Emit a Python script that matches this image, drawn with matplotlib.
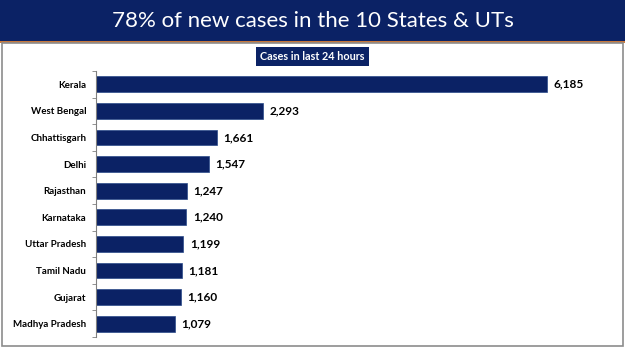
import numpy as np
import matplotlib.pyplot as plt
from matplotlib.patches import Rectangle

states = ["Kerala", "West Bengal", "Chhattisgarh", "Delhi", "Rajasthan",
          "Karnataka", "Uttar Pradesh", "Tamil Nadu", "Gujarat", "Madhya Pradesh"]
cases = [6185, 2293, 1661, 1547, 1247, 1240, 1199, 1181, 1160, 1079]

title = "78% of new cases in the 10 States & UTs"
subtitle = "Cases in last 24 hours"

navy = "#0b2265"
W, H = 625, 351

fig = plt.figure(figsize=(W / 100, H / 100), dpi=100)
fig.patch.set_facecolor("white")

# title band + orange underline
fig.patches.append(Rectangle((0, 1 - 41 / H), 1, 41 / H, transform=fig.transFigure,
                             facecolor=navy, edgecolor="none", zorder=0))
fig.patches.append(Rectangle((0, 1 - 43 / H), 1, 2 / H, transform=fig.transFigure,
                             facecolor="#c8783c", edgecolor="none", zorder=0))
# panel border
fig.patches.append(Rectangle((2 / W, 5 / H), 621 / W, (H - 48) / H, transform=fig.transFigure,
                             facecolor="none", edgecolor="#8c8c8c", linewidth=1.2, zorder=0))

fig.text(0.5, 1 - 21 / H, title, color="white", fontsize=16, family="Lato",
         ha="center", va="center")
fig.text(0.5, 1 - 56.5 / H, subtitle, color="white", fontsize=7.8, family="Lato",
         fontweight="bold", ha="center", va="center",
         bbox=dict(boxstyle="square,pad=0.35", facecolor=navy, edgecolor="none"))

ax = fig.add_axes([96 / W, 1 - 337 / H, 504 / W, 266 / H])
y = np.arange(len(states))
ax.barh(y, cases, height=0.6, color=navy, edgecolor="#2a4a8a", linewidth=0.5)
ax.set_ylim(len(states) - 0.5, -0.5)
ax.set_xlim(0, 6185 * 504 / 451)

ax.set_yticks(y)
ax.set_yticklabels(states, fontsize=7, fontweight="bold", family="Lato")
ax.tick_params(axis="y", which="major", length=0, pad=7)
ax.set_yticks(np.arange(len(states) + 1) - 0.5, minor=True)
ax.tick_params(axis="y", which="minor", length=3, color="#808080", direction="out")
ax.set_xticks([])

for s in ["top", "right", "bottom"]:
    ax.spines[s].set_visible(False)
ax.spines["left"].set_color("#808080")

for yi, v in zip(y, cases):
    ax.text(v + 90, yi, f"{v:,}", va="center", ha="left", fontsize=8.5,
            fontweight="bold", family="Lato")

fig.savefig("out.png", dpi=100)
